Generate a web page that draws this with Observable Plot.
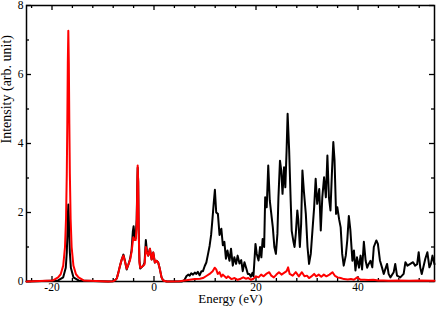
<!DOCTYPE html>
<html><head><meta charset="utf-8">
<script src="https://cdn.jsdelivr.net/npm/d3@7"></script>
<script src="https://cdn.jsdelivr.net/npm/@observablehq/plot@0.6"></script>
<style>html,body{margin:0;padding:0;background:#fff} svg{display:block}</style>
</head><body><div id="chart"></div>
<script>
const blackEnergy = [-25,-18.8,-17.8,-17.3,-17.1,-17.0,-16.9,-16.8,-16.7,-16.6,-16.5,-16.3,-15.8,-14.8,-9,-8,-7.6,-7.3,-7.0,-6.66,-6.3,-6.0,-5.7,-5.35,-5.0,-4.7,-4.4,-4.15,-4.0,-3.8,-3.6,-3.4,-3.25,-3.2,-3.1,-3.0,-2.85,-2.7,-2.4,-2.1,-1.85,-1.6,-1.4,-1.12,-0.8,-0.47,-0.15,0.17,0.5,0.82,1.15,1.48,1.8,2.5,5.5,6.0,6.35,6.7,7.0,7.3,7.65,8.0,8.3,8.6,8.95,9.3,9.6,9.95,10.26,10.6,10.9,11.2,11.4,11.7,11.94,12.2,12.53,12.85,13.2,13.5,13.8,14.1,14.4,14.8,15.1,15.45,15.75,16.1,16.4,16.76,17.1,17.4,17.74,18.06,18.4,18.7,19.0,19.3,19.5,19.9,20.15,20.5,20.8,21.05,21.3,21.6,21.8,22.1,22.4,22.7,23.0,23.3,23.6,23.9,24.2,24.4,24.7,24.95,25.2,25.5,25.75,26.0,26.2,26.5,26.8,27.0,27.3,27.56,27.8,28.1,28.3,28.6,28.85,29.1,29.4,29.77,30.1,30.4,30.74,31.07,31.4,31.7,32.0,32.4,32.7,33.0,33.35,33.7,34.0,34.3,34.6,34.9,35.16,35.4,35.7,35.95,36.3,36.6,36.9,37.2,37.6,37.9,38.2,38.5,38.9,39.2,39.5,39.8,40.2,40.5,40.8,41.15,41.5,41.8,42.1,42.45,42.8,43.1,43.6,43.9,44.3,44.7,45.05,45.7,46.0,46.35,47.0,47.3,47.65,48.3,48.95,49.3,49.7,50.25,50.8,51.2,51.6,51.9,52.2,52.5,53.2,53.6,54.0,54.3,54.6,55];
const blackIntensity = [0,0.03,0.12,0.4,0.84,1.29,1.89,2.23,1.89,1.29,0.84,0.4,0.12,0.03,0,0.01,0.04,0.09,0.25,0.46,0.65,0.78,0.6,0.35,0.5,0.65,0.9,1.45,1.6,1.3,1.25,1.8,3.0,3.3,2.9,1.5,0.6,0.38,0.42,0.46,0.55,1.2,0.9,0.75,0.95,0.64,0.84,0.55,0.6,0.55,0.36,0.12,0.03,0,0,0.05,0.15,0.2,0.17,0.24,0.2,0.26,0.22,0.28,0.18,0.3,0.3,0.45,0.55,0.8,1.03,1.35,1.7,2.25,2.66,2.0,1.96,1.35,1.53,1.05,1.15,0.66,0.9,0.6,0.95,0.46,0.7,0.51,0.75,0.52,0.62,0.3,0.56,0.4,0.22,0.22,0.14,0.25,0.15,1.09,0.8,0.61,1.0,0.7,1.23,1.0,2.44,2.15,3.36,2.35,1.96,1.57,1.0,0.8,1.38,2.44,3.5,3.22,2.54,3.31,2.73,3.8,4.86,3.8,2.35,1.47,1.19,1.0,1.38,2.06,1.77,1.0,1.67,3.22,2.6,1.96,1.0,0.51,0.8,1.48,2.15,2.98,2.25,2.68,1.48,2.44,3.02,2.44,3.65,2.44,2.06,3.2,4.04,3.51,1.96,2.15,1.8,1.57,0.8,0.46,0.75,1.2,1.9,1.5,0.6,0.9,0.32,0.7,0.4,0.75,0.35,1.15,0.6,0.4,0.51,0.6,0.41,1.0,1.19,1.09,0.61,0.41,0.22,0.51,0.22,0.12,0.27,0.51,0.17,0.12,0.22,0.56,0.46,0.51,0.56,0.46,0.5,0.85,0.41,0.22,0.66,0.85,0.41,0.51,0.75,0.5];
const redEnergy = [-25,-19.8,-18.8,-18.3,-17.8,-17.45,-17.25,-17.1,-17.0,-16.9,-16.8,-16.7,-16.6,-16.5,-16.35,-16.15,-15.8,-15.3,-14.8,-13.8,-9,-8,-7.6,-7.3,-7.0,-6.66,-6.3,-6.0,-5.7,-5.35,-5.0,-4.7,-4.4,-4.06,-3.8,-3.6,-3.4,-3.25,-3.2,-3.1,-3.0,-2.85,-2.7,-2.4,-2.1,-1.85,-1.6,-1.4,-1.12,-0.8,-0.47,-0.15,0.17,0.5,0.82,1.15,1.48,1.8,2.5,5,6,7,8,9,9.6,10.26,10.9,11.5,11.9,12.2,12.5,12.85,13.2,13.5,14.2,14.5,15.2,15.8,16.4,17.0,17.5,18,18.5,19,19.5,20,20.5,21,21.5,22,22.6,23.0,23.5,24.0,24.5,25,25.5,26.0,26.3,26.6,27.2,27.8,28.4,29,29.5,30,30.4,30.8,31.4,31.8,32.3,32.8,33.3,33.8,34.4,35.0,35.5,36.0,36.6,37.25,38,38.6,39.2,39.85,40.5,41.2,42,43,44,45,46,48,50,52,55];
const redIntensity = [0,0.03,0.12,0.21,0.46,1.0,1.82,3.12,4.57,6.33,7.27,6.33,4.57,3.12,1.82,1.0,0.46,0.21,0.12,0.03,0,0.01,0.04,0.09,0.25,0.46,0.65,0.75,0.58,0.37,0.5,0.62,0.85,1.28,1.2,1.2,1.6,3.0,3.36,2.9,1.4,0.55,0.4,0.42,0.46,0.5,1.0,0.85,0.75,0.95,0.64,0.84,0.55,0.6,0.55,0.36,0.12,0.03,0,0.01,0.03,0.05,0.07,0.08,0.1,0.16,0.22,0.3,0.4,0.35,0.22,0.27,0.14,0.2,0.1,0.15,0.07,0.1,0.05,0.08,0.12,0.08,0.1,0.05,0.08,0.15,0.12,0.2,0.15,0.22,0.27,0.17,0.12,0.2,0.27,0.2,0.25,0.3,0.41,0.22,0.17,0.27,0.15,0.27,0.15,0.17,0.1,0.14,0.22,0.15,0.2,0.14,0.2,0.15,0.2,0.27,0.16,0.12,0.1,0.07,0.06,0.07,0.05,0.12,0.05,0.05,0.04,0.05,0.03,0.03,0.02,0.03,0.02,0.03,0.02];
const xMajorTicks = [-20, 0, 20, 40];
const xMinorTicks = [-24, -16, -12, -8, -4, 4, 8, 12, 16, 24, 28, 32, 36, 44, 48, 52];
const yMajorTicks = [0, 2, 4, 6, 8];
const yMinorTicks = [1, 3, 5, 7];
const xDomain = [-25, 55];
const yDomain = [0, 8];
const xLabel = "Energy (eV)";
const yLabel = "Intensity (arb. unit)";

const W = 436, H = 309, mL = 26, mR = 2, mT = 5, mB = 28;
const innerW = W - mL - mR, innerH = H - mT - mB;
const black = blackEnergy.map((e, i) => ({e, v: blackIntensity[i]}));
const red = redEnergy.map((e, i) => ({e, v: redIntensity[i]}));
const tk = {stroke: "#000", strokeWidth: 1.3};

const chart = Plot.plot({
  width: W, height: H,
  marginLeft: mL, marginRight: mR, marginTop: mT, marginBottom: mB,
  x: {domain: xDomain, label: null},
  y: {domain: yDomain, label: null},
  style: {fontFamily: "'Liberation Serif', 'Times New Roman', serif", fontSize: "11.5px", color: "#000", background: "#fff", overflow: "visible"},
  marks: [
    Plot.tickX(xMajorTicks, {x: d => d, insetTop: innerH - 5, ...tk}),
    Plot.tickX(xMajorTicks, {x: d => d, insetBottom: innerH - 5, ...tk}),
    Plot.tickX(xMinorTicks, {x: d => d, insetTop: innerH - 3, ...tk}),
    Plot.tickX(xMinorTicks, {x: d => d, insetBottom: innerH - 3, ...tk}),
    Plot.tickY(yMajorTicks, {y: d => d, insetRight: innerW - 5, ...tk}),
    Plot.tickY(yMajorTicks, {y: d => d, insetLeft: innerW - 5, ...tk}),
    Plot.tickY(yMinorTicks, {y: d => d, insetRight: innerW - 3, ...tk}),
    Plot.tickY(yMinorTicks, {y: d => d, insetLeft: innerW - 3, ...tk}),
    Plot.axisX({ticks: xMajorTicks, tickSize: 0, tickPadding: 1, tickFormat: d => String(d), label: null}),
    Plot.axisY({ticks: yMajorTicks, tickSize: 0, tickPadding: 3, tickFormat: d => String(d), label: null}),
    Plot.frame({stroke: "#000", strokeWidth: 1.5}),
    Plot.line(black, {x: "e", y: "v", stroke: "#000", strokeWidth: 2}),
    Plot.line(red, {x: "e", y: "v", stroke: "#ff0000", strokeWidth: 2}),
    Plot.text([xLabel], {text: d => d, frameAnchor: "bottom", dy: 21, fontSize: 13}),
    Plot.text([yLabel], {text: d => d, frameAnchor: "left", dx: -20, rotate: -90, fontSize: 14})
  ]
});
document.getElementById("chart").appendChild(chart);
</script>
</body></html>
